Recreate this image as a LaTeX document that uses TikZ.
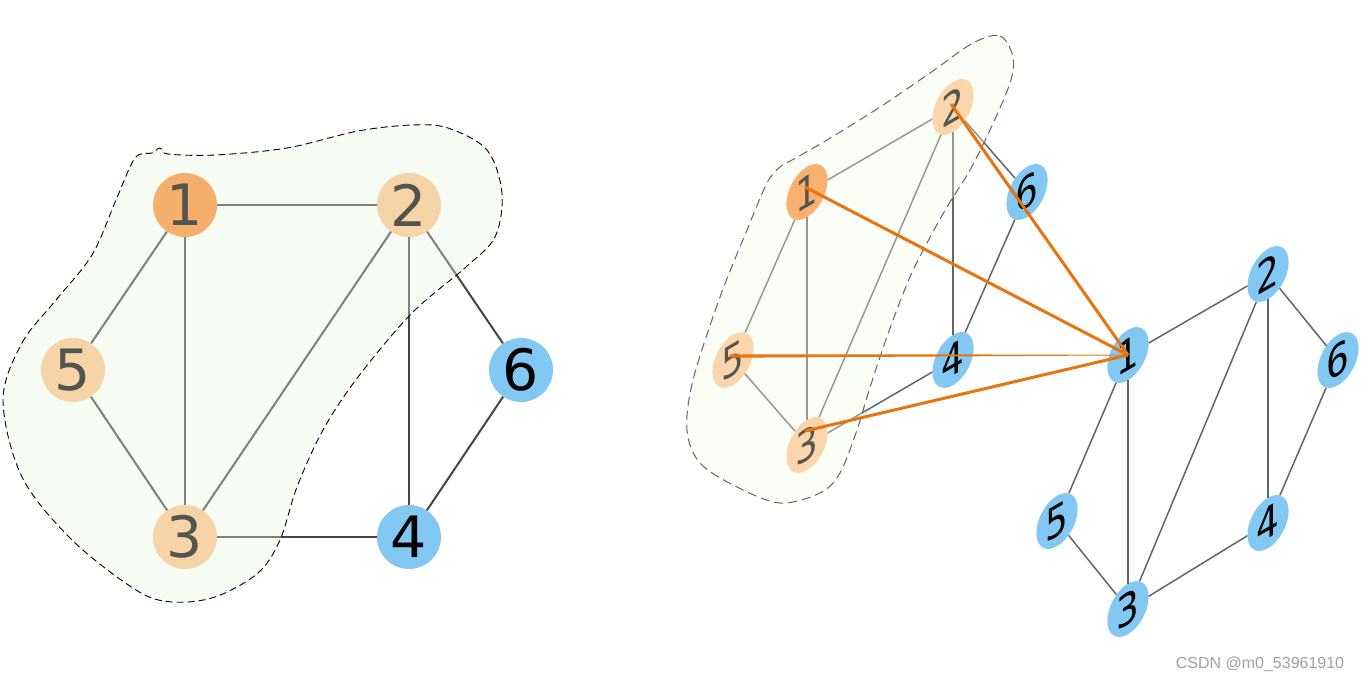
\documentclass[tikz,border=0pt]{standalone}
\usepackage{fontspec}
\newfontfamily\dejavu{DejaVu Sans}
\newfontfamily\libsans{Liberation Sans}
\usetikzlibrary{calc}
\definecolor{orDark}{RGB}{254,137,47}
\definecolor{orLight}{RGB}{255,195,139}
\definecolor{blueN}{RGB}{130,200,242}
\definecolor{ovA}{RGB}{230,245,222}
\definecolor{ovB}{RGB}{244,249,232}
\definecolor{edgeL}{RGB}{68,68,68}
\definecolor{edgeR}{RGB}{100,100,100}
\definecolor{hiOr}{RGB}{232,115,15}
\definecolor{wm}{RGB}{160,160,160}
\tikzset{
  lnode/.style={circle, minimum size=64pt, inner sep=0pt, draw=none, font=\dejavu\fontsize{57}{57}\selectfont},
  rnode/.style={circle, minimum size=66pt, inner sep=0pt, draw=none, font=\dejavu\fontsize{57}{57}\selectfont, cm={0.625,0.362,0,0.765,(0,0)}},
  ledge/.style={draw=edgeL, line width=2pt},
  redge/.style={draw=edgeR, line width=1.5pt},
  oline/.style={draw=hiOr, line width=3pt},
}
\begin{document}
\begin{tikzpicture}[x=1pt,y=-1pt]
\useasboundingbox (0,0) rectangle (1363,682);
% ---------- left graph ----------
\node[lnode, fill=orDark]  (a1) at (185,205) {1};
\node[lnode, fill=orLight] (a2) at (409,205) {2};
\node[lnode, fill=orLight] (a5) at (73,370) {5};
\node[lnode, fill=blueN]   (a6) at (521,370) {6};
\node[lnode, fill=orLight] (a3) at (185,537) {3};
\node[lnode, fill=blueN]   (a4) at (409,537) {4};
\foreach \u/\v in {a1/a2,a1/a5,a1/a3,a2/a3,a2/a4,a2/a6,a5/a3,a3/a4,a6/a4}
  \draw[ledge] (\u) -- (\v);
\draw[black, line width=0.9pt, dash pattern=on 7pt off 4pt, fill=ovA, fill opacity=0.35]
  plot[smooth cycle, tension=0.55] coordinates {
  (3,400) (22,343) (56,300) (92,255) (116,200) (135,158) (152,153) (160,148) (168,154)
  (215,155) (287,148) (358,131) (412,125) (448,128) (487,150) (502,193) (495,237) (466,267)
  (412,313) (358,377) (323,430) (297,487) (280,540) (258,573) (215,597) (172,602) (136,590)
  (72,540) (22,477)};
% ---------- right graph ----------
\node[rnode, fill=orDark]  (b1) at (807,192) {1};
\node[rnode, fill=orLight] (b2) at (953,107) {2};
\node[rnode, fill=orLight] (b5) at (733,360) {5};
\node[rnode, fill=blueN]   (b6) at (1027,192) {6};
\node[rnode, fill=orLight] (b3) at (807,445) {3};
\node[rnode, fill=blueN]   (b4) at (953,360) {4};
\node[rnode, fill=blueN] (c1) at (1128,355) {1};
\node[rnode, fill=blueN] (c2) at (1268,274) {2};
\node[rnode, fill=blueN] (c5) at (1057,521) {5};
\node[rnode, fill=blueN] (c6) at (1338,360) {6};
\node[rnode, fill=blueN] (c3) at (1128,609) {3};
\node[rnode, fill=blueN] (c4) at (1268,523) {4};
\foreach \p in {b,c}{
  \foreach \u/\v in {1/2,1/5,1/3,2/3,2/4,2/6,5/3,3/4,6/4}
    \draw[redge] (\p\u) -- (\p\v);
}
\draw[edgeR, line width=1pt, dash pattern=on 9pt off 5pt, fill=ovB, fill opacity=0.35]
  plot[smooth cycle, tension=0.55] coordinates {
  (973,43) (1000,36) (1013,57) (1010,83) (990,130) (970,170) (947,207) (927,243) (910,277)
  (893,320) (880,357) (867,397) (857,430) (840,473) (820,493) (780,503) (737,487) (700,463)
  (687,430) (693,380) (720,297) (747,230) (767,183) (780,167) (792,160) (827,140) (880,107) (930,73)};
% ---------- highlighted connections ----------
\draw[oline] ($(b1.center)+(-2,-5)$) -- (c1.center);
\draw[oline] ($(b2.center)+(-2,-3)$) -- (c1.center);
\draw[oline] ($(b3.center)+(-2,-14)$) -- (c1.center);
\fill[hiOr] ($(b5.center)+(-3,-5.7)$) -- ($(c1.center)+(0,-0.4)$) -- ($(c1.center)+(0,0.4)$) -- ($(b5.center)+(-3,-2.3)$) -- cycle;
% watermark
\node[font=\libsans\fontsize{16}{16}\selectfont, text=wm, inner sep=0pt] (wmk) at (1260,664) {CSDN @m0\_53961910};
\end{tikzpicture}
\end{document}
